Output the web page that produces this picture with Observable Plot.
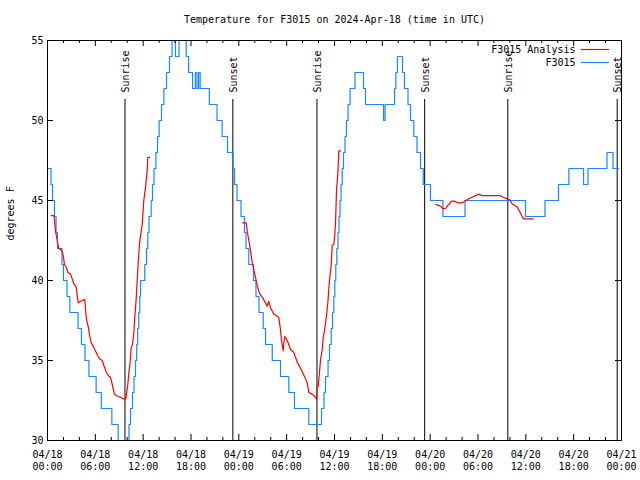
<!DOCTYPE html>
<html>
<head>
<meta charset="utf-8">
<script src="https://cdn.jsdelivr.net/npm/d3@7"></script>
<script src="https://cdn.jsdelivr.net/npm/@observablehq/plot@0.6"></script>
<style>
  html, body { margin: 0; padding: 0; background: white; }
</style>
</head>
<body>
<div id="chart"></div>
<script>
// Hours since 2024-04-18 00:00 UTC
const START = Date.UTC(2024, 3, 18);
const title = "Temperature for F3015 on 2024-Apr-18 (time in UTC)";
const yLabel = "degrees F";

// F3015 observations [hour, °F]
const blueObs = [[0,47],[0.44,46],[0.63,45],[0.88,44],[1.07,43],[1.25,42],[1.82,41],[2.0,40],[2.45,39],[2.8,38],[3.83,37],[4.26,36],[4.7,35],[5.2,34],[6.1,33],[6.75,32],[8.07,31],[8.87,30],[9.16,29],[10.07,30],[10.22,31],[10.41,32],[10.66,33],[10.85,34],[11.04,35],[11.19,36],[11.31,37],[11.44,38],[11.57,39],[11.67,40],[12.2,41],[12.42,42],[12.58,43],[12.73,44],[13.0,45],[13.17,46],[13.36,47],[13.6,48],[13.8,49],[14.0,50],[14.3,51],[14.6,52],[14.93,53],[15.3,54],[15.62,55],[15.75,56],[16.05,54],[16.5,56],[17.4,54],[17.7,53],[18.2,52],[18.55,53],[18.75,52],[18.95,53],[19.15,52],[20.3,51],[21.26,50],[21.9,49],[22.58,48],[23.27,47],[23.46,46],[23.77,45],[24.27,44],[24.71,43],[24.9,42],[25.25,41],[25.84,40],[26.15,39],[26.53,38],[27.06,37],[27.35,36],[28.19,35],[29.23,34],[30.27,33],[30.98,32],[32.78,31],[34.37,32],[34.68,33],[34.87,34],[35.19,35],[35.37,36],[35.59,37],[35.75,38],[35.91,39],[36.04,40],[36.16,41],[36.29,42],[36.44,43],[36.56,44],[36.69,45],[36.82,46],[36.97,47],[37.13,48],[37.32,49],[37.5,50],[37.7,51],[37.95,52],[38.57,53],[39.64,52],[39.89,51],[42.15,50],[42.34,51],[43.53,52],[43.69,53],[43.9,54],[44.53,53],[44.78,52],[45.22,51],[45.53,50],[45.95,49],[46.35,48],[46.79,47],[47.13,46],[48.04,45],[49.6,44],[52.37,45],[59.96,44],[62.4,45],[64.1,46],[65.4,47],[67.24,46],[67.8,47],[70.18,48],[70.93,47],[71.66,47]];

// F3015 Analysis, three separate runs [hour, °F]
const analysis1 = [[0.50,44.06],[0.79,44.06],[0.88,43.75],[1.00,43.1],[1.22,42.5],[1.42,42.0],[1.72,41.9],[1.84,41.8],[1.97,41.56],[2.13,41.0],[2.38,40.8],[2.55,40.5],[2.89,40.4],[3.10,40.1],[3.30,39.8],[3.60,39.6],[3.73,39.06],[3.85,38.6],[4.14,38.7],[4.55,38.8],[4.68,38.8],[4.85,37.7],[5.11,37.1],[5.31,36.5],[5.48,36.1],[5.73,35.9],[6.02,35.6],[6.31,35.3],[6.56,35.1],[6.86,35.0],[7.06,34.7],[7.36,34.3],[7.61,34.06],[7.90,33.96],[8.12,33.5],[8.40,32.9],[8.66,32.8],[9.16,32.7],[9.50,32.6],[9.82,32.6],[9.91,32.9],[10.07,33.5],[10.20,34.2],[10.32,34.7],[10.41,35.2],[10.50,35.8],[10.66,36.0],[10.83,36.7],[10.95,37.7],[11.13,38.9],[11.25,40.0],[11.38,41.1],[11.54,42.3],[11.67,42.8],[11.88,43.5],[12.08,45.0],[12.29,45.8],[12.51,46.9],[12.58,47.7],[12.83,47.7]];
const analysis2 = [[24.50,43.6],[24.92,43.6],[25.05,43.1],[25.25,42.5],[25.46,41.9],[25.68,41.1],[25.88,40.7],[26.09,40.2],[26.30,39.7],[26.59,39.2],[26.93,38.96],[27.35,38.6],[27.56,38.4],[27.76,38.7],[27.97,38.3],[28.39,37.9],[28.73,37.8],[29.01,37.7],[29.23,36.9],[29.35,36.25],[29.57,35.6],[29.64,36.1],[29.77,36.5],[30.07,36.25],[30.48,35.7],[30.90,35.5],[31.32,34.9],[31.65,34.6],[31.95,34.3],[32.28,33.96],[32.58,33.6],[32.78,33.0],[33.20,32.9],[33.62,32.7],[33.74,32.6],[33.83,33.4],[33.96,33.4],[34.12,34.3],[34.24,35.0],[34.46,35.7],[34.58,36.4],[34.78,37.0],[35.00,37.8],[35.16,38.6],[35.29,39.5],[35.41,40.2],[35.59,41.0],[35.71,42.2],[35.91,42.25],[36.04,42.9],[36.13,43.6],[36.25,45.6],[36.42,46.7],[36.54,48.1],[36.75,48.1]];
const analysis3 = [[48.67,44.75],[49.08,44.7],[49.39,44.6],[49.59,44.5],[49.92,44.5],[50.21,44.7],[50.46,44.8],[50.68,44.96],[50.97,44.96],[51.27,44.9],[51.59,44.85],[52.02,44.85],[52.31,44.96],[52.65,45.04],[52.97,45.15],[53.27,45.2],[53.69,45.3],[54.10,45.4],[54.53,45.3],[56.82,45.3],[57.16,45.2],[57.66,45.1],[57.99,45.04],[58.29,44.8],[58.58,44.7],[58.92,44.6],[59.12,44.4],[59.33,44.2],[59.55,44.0],[59.75,43.85],[60.93,43.85]];

// Sun events [hour, label]
const sunEvents = [[9.72,"Sunrise"],[23.25,"Sunset"],[33.8,"Sunrise"],[47.31,"Sunset"],[57.74,"Sunrise"],[71.46,"Sunset"]];

const majorHours = d3.range(0, 73, 6);
const minorHours = d3.range(0, 73, 2).filter(h => h % 6 !== 0);
const yTicks = [30, 35, 40, 45, 50, 55];

const legendItems = [
  {label: "F3015 Analysis", color: "#ff0000"},
  {label: "F3015", color: "#1a86ff"}
];

const t = h => new Date(START + h * 3600000);
const fmtDate = d3.utcFormat("%m/%d");
const fmtTime = d3.utcFormat("%H:%M");

const blueData = blueObs.map(([h, v]) => ({time: t(h), temp: v}));
const redData = [analysis1, analysis2, analysis3].flatMap((seg, i) =>
  seg.map(([h, v]) => ({time: t(h), temp: v, seg: i})));
const sunData = sunEvents.map(([h, label]) => ({time: t(h), label}));

const legendLines = (index, scales, values, dims) => {
  const g = d3.create("svg:g");
  const x2 = dims.width - dims.marginRight - 12;
  const x1 = x2 - 28;
  legendItems.forEach((d, i) => {
    const y = dims.marginTop + 9.5 + i * 13;
    g.append("line").attr("x1", x1).attr("x2", x2).attr("y1", y).attr("y2", y)
      .attr("stroke", d.color).attr("stroke-width", 1.2);
  });
  return g.node();
};

const plot = Plot.plot({
  width: 640,
  height: 480,
  marginTop: 40,
  marginRight: 19,
  marginBottom: 40,
  marginLeft: 47,
  style: {fontFamily: "'DejaVu Sans Mono', monospace", fontSize: "10px", background: "white", color: "black"},
  x: {type: "utc", domain: [t(0), t(72)], axis: null},
  y: {domain: [30, 55], axis: null},
  marks: [
    // sunrise / sunset lines and labels
    Plot.ruleX(sunData, {x: "time", stroke: "black", strokeWidth: 1, insetTop: 59}),
    Plot.text(sunData, {x: "time", text: "label", frameAnchor: "top", dy: 52, rotate: -90, textAnchor: "start", lineAnchor: "middle", dx: 1, fill: "black"}),
    // series
    Plot.line(blueData, {x: "time", y: "temp", curve: "step-after", stroke: legendItems[1].color, strokeWidth: 1.2, clip: true}),
    Plot.line(redData, {x: "time", y: "temp", z: "seg", stroke: legendItems[0].color, strokeWidth: 1.2, clip: true}),
    // ticks (inward, mirrored)
    Plot.ruleX(majorHours.map(t), {x: d => d, insetTop: 394, stroke: "black"}),
    Plot.ruleX(majorHours.map(t), {x: d => d, insetBottom: 394, stroke: "black"}),
    Plot.ruleX(minorHours.map(t), {x: d => d, insetTop: 397, stroke: "black"}),
    Plot.ruleX(minorHours.map(t), {x: d => d, insetBottom: 397, stroke: "black"}),
    Plot.ruleY(yTicks, {y: d => d, insetRight: 568, stroke: "black"}),
    Plot.ruleY(yTicks, {y: d => d, insetLeft: 568, stroke: "black"}),
    Plot.frame({stroke: "black", strokeWidth: 1}),
    // tick labels
    Plot.text(majorHours.map(t), {x: d => d, text: d => fmtDate(d) + "\n" + fmtTime(d), frameAnchor: "bottom", dy: 9, lineAnchor: "top", lineHeight: 1.2, fill: "black"}),
    Plot.text(yTicks, {y: d => d, text: d => String(d), frameAnchor: "left", dx: -4, textAnchor: "end", fill: "black"}),
    // title and axis label
    Plot.text([title], {text: d => d, frameAnchor: "top", dy: -21, lineAnchor: "middle", fill: "black"}),
    Plot.text([yLabel], {text: d => d, frameAnchor: "left", dx: -37, rotate: -90, lineAnchor: "middle", fill: "black"}),
    // legend
    ...legendItems.map((d, i) => Plot.text([d], {text: "label", frameAnchor: "top-right", dx: -46, dy: 9.5 + i * 13, textAnchor: "end", lineAnchor: "middle", fill: "black"})),
    legendLines
  ]
});
document.getElementById("chart").appendChild(plot);
</script>
</body>
</html>
